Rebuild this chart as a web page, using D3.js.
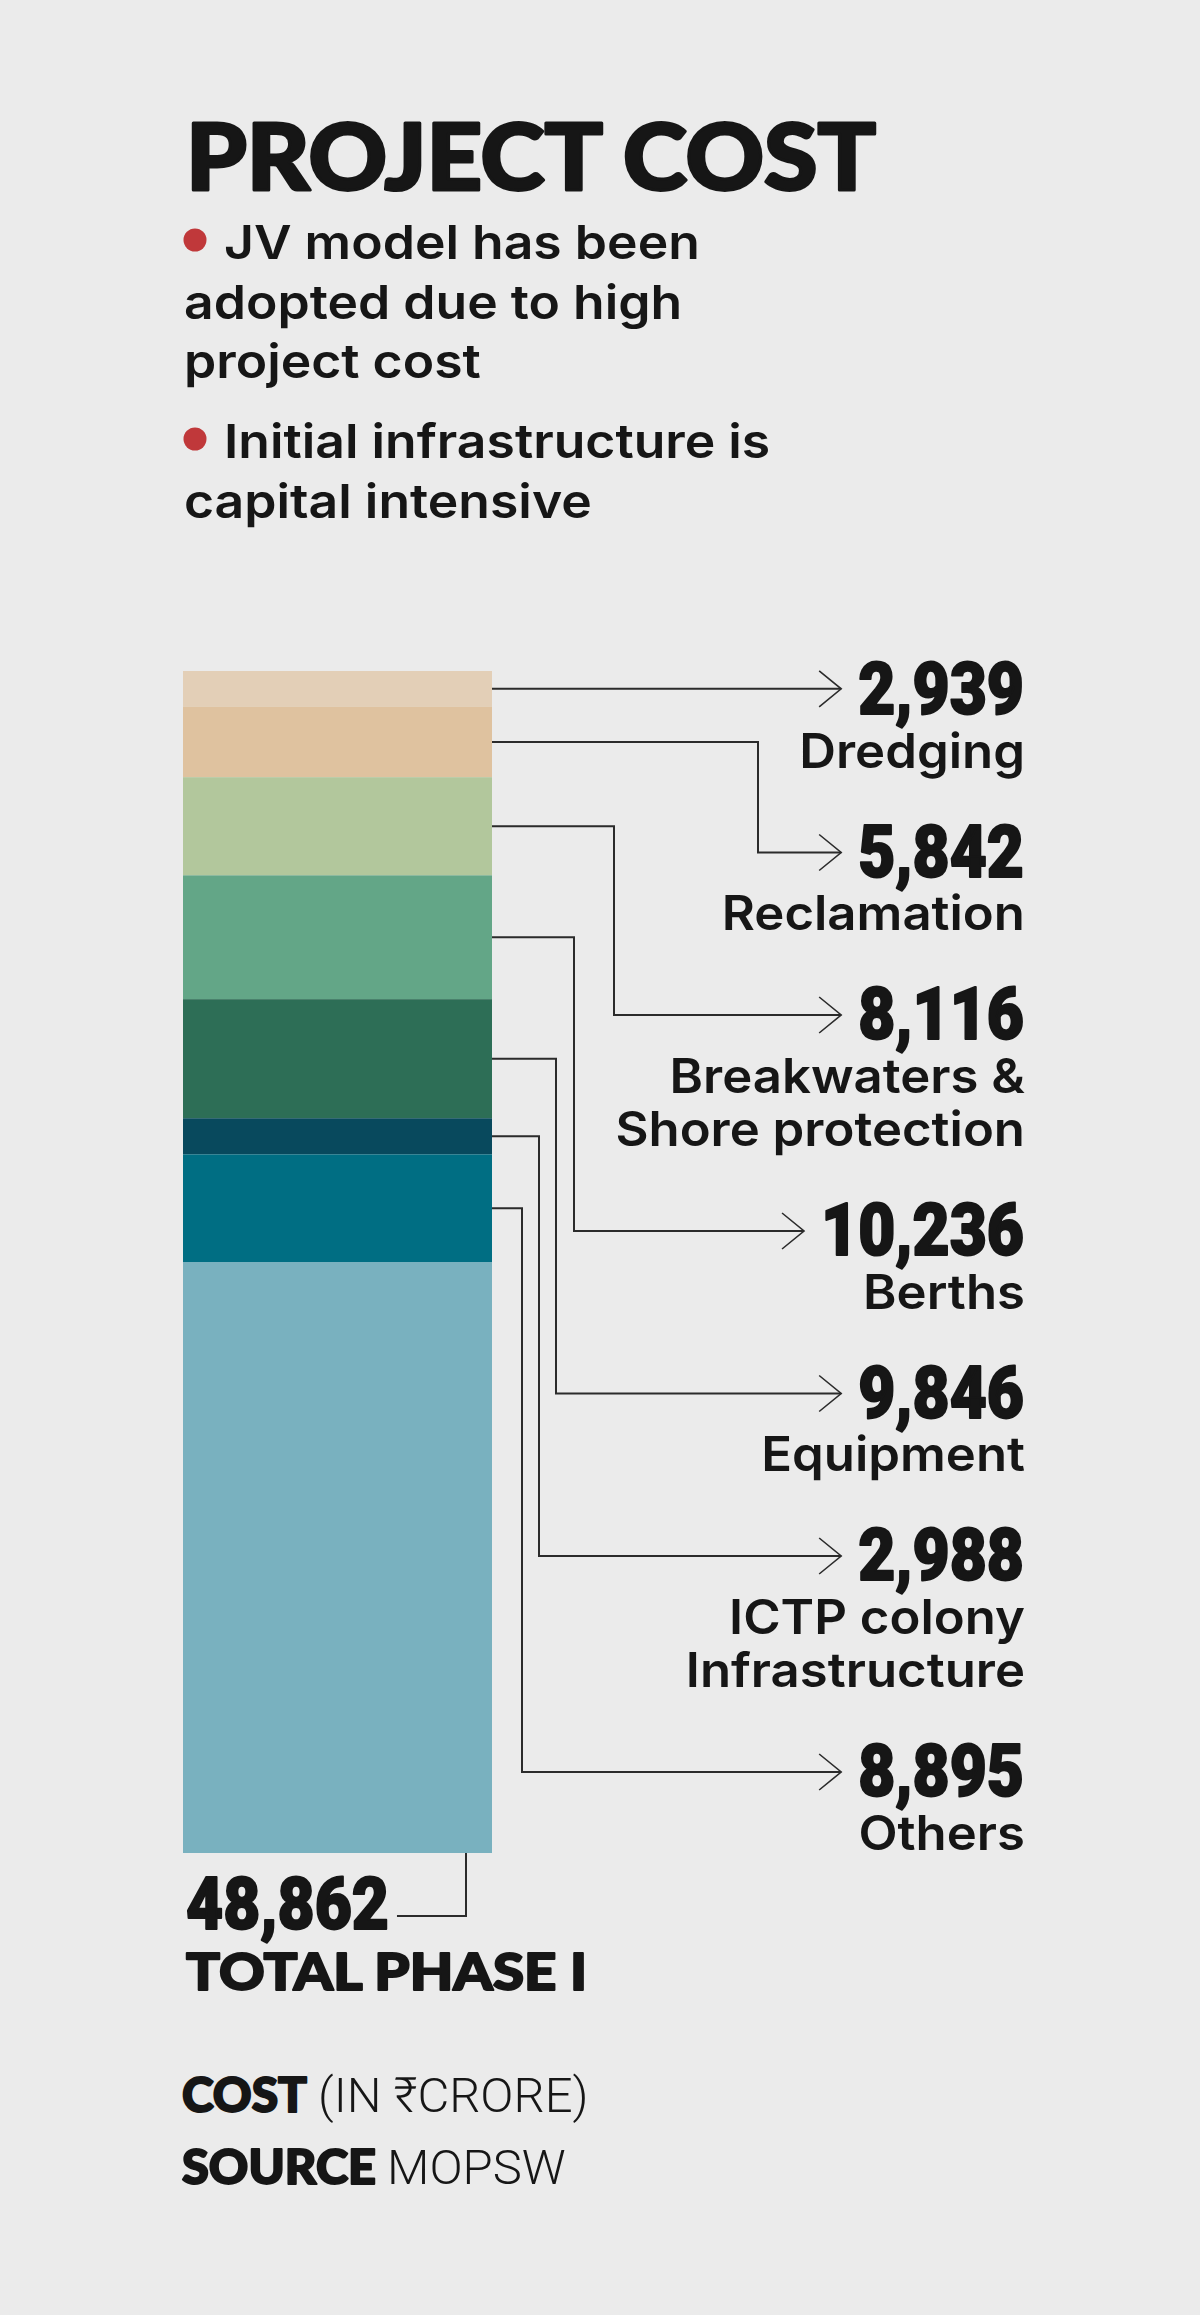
<!DOCTYPE html>
<html>
<head>
<meta charset="utf-8">
<title>Project cost</title>
<script src="https://d3js.org/d3.v7.min.js"></script>
<style>
  body { margin: 0; background: #ebebeb; }
  svg text { fill: #161616; }
  svg text.heavy { stroke: #161616; stroke-linejoin: round; }
</style>
</head>
<body>
<div id="chart"></div>
<script>
// data (Rs crore)
var categories = ["Dredging", "Reclamation", "Breakwaters & Shore protection", "Berths",
                  "Equipment", "ICTP colony Infrastructure", "Others"];
var labelLines = [["Dredging"], ["Reclamation"], ["Breakwaters &", "Shore protection"], ["Berths"],
                  ["Equipment"], ["ICTP colony", "Infrastructure"], ["Others"]];
var values = [2939, 5842, 8116, 10236, 9846, 2988, 8895];
var totalValue = 48862;
var totalLabel = "TOTAL PHASE I";
var bullets = [["JV model has been", "adopted due to high", "project cost"],
               ["Initial infrastructure is", "capital intensive"]];

var colors = ["#e3cfb7", "#dfc29f", "#b2c79c", "#63a687", "#2d6e56", "#08495d", "#006e83"];
var totalColor = "#79b1bf";

var W = 1200, H = 2315;
var left = 184;
var barX0 = 183, barX1 = 492;
var labelRight = 1024;
// x of the vertical leg of each connector (nested so they don't cross)
var elbowX = [null, 758, 614, 574, 556, 539, 522];

var svg = d3.select("#chart").append("svg")
    .attr("width", W).attr("height", H);
svg.append("rect").attr("width", W).attr("height", H).attr("fill", "#ebebeb");

// squeeze/stretch a text to a factor of its natural width
function fit(sel, k) {
    sel.each(function() {
        var w = this.getComputedTextLength();
        d3.select(this).attr("textLength", w * k).attr("lengthAdjust", "spacingAndGlyphs");
    });
}
function fitTo(sel, w) {
    sel.attr("textLength", w).attr("lengthAdjust", "spacingAndGlyphs");
}

var heavy = "Lato, Roboto, sans-serif";

// title
svg.append("text").attr("class", "heavy")
    .attr("x", left + 2).attr("y", 190)
    .style("font-family", heavy).style("font-weight", 900)
    .style("font-size", "91px").style("stroke-width", 3)
    .text("PROJECT COST")
    .call(fitTo, 690);

// bullets
var bulletY = [259, 458];
bullets.forEach(function(lines, b) {
    svg.append("circle").attr("cx", 195).attr("cy", bulletY[b] - 19).attr("r", 11.5).attr("fill", "#c0383a");
    lines.forEach(function(line, i) {
        svg.append("text")
            .attr("x", i === 0 ? 224 : left).attr("y", bulletY[b] + i * 59.5)
            .style("font-family", "Inter, sans-serif").style("font-weight", 600)
            .style("font-size", "47px")
            .text(line)
            .call(fit, 1.1);
    });
});

// stacked bar
var y = d3.scaleLinear().domain([0, totalValue * 2]).range([671, 1853]);
var cum = d3.cumsum(values);
var stack = values.map(function(v, i) { return {v: v, y0: cum[i] - v, y1: cum[i], i: i}; });
var sum = cum[cum.length - 1];

svg.append("g").selectAll("rect").data(stack).join("rect")
    .attr("x", barX0).attr("width", barX1 - barX0)
    .attr("y", function(d) { return y(d.y0); })
    .attr("height", function(d) { return y(d.y1) - y(d.y0); })
    .attr("fill", function(d) { return colors[d.i]; });

svg.append("rect")
    .attr("x", barX0).attr("width", barX1 - barX0)
    .attr("y", y(sum)).attr("height", y(sum + totalValue) - y(sum))
    .attr("fill", totalColor);

// labels on the right, stacked top to bottom
var valueFmt = d3.format(",");
var lineGap = 53.5, blockGap = 109;
var base = 714;
var labels = svg.append("g");
stack.forEach(function(d, i) {
    var vt = labels.append("text").attr("class", "heavy")
        .attr("x", labelRight).attr("y", base)
        .attr("text-anchor", "end")
        .style("font-family", "Roboto, sans-serif").style("font-weight", 900)
        .style("font-size", "72px").style("stroke-width", 2)
        .text(valueFmt(d.v))
        .call(fit, 0.89);
    var vx = labelRight - vt.node().getBBox().width;
    labelLines[i].forEach(function(line, j) {
        labels.append("text")
            .attr("x", labelRight + 1).attr("y", base + (j + 1) * lineGap)
            .attr("text-anchor", "end")
            .style("font-family", "Inter, sans-serif").style("font-weight", 600)
            .style("font-size", "48px")
            .text(line)
            .call(fit, 1.06);
    });

    var srcY = y(d.y0 + d.v / 2);
    var tgtY = i === 0 ? srcY : base - 24;
    var tip = vx - 17;
    var p = d3.path();
    p.moveTo(barX1, srcY);
    if (elbowX[i] !== null) { p.lineTo(elbowX[i], srcY); p.lineTo(elbowX[i], tgtY); }
    p.lineTo(tip, tgtY);
    labels.append("path").attr("d", p.toString())
        .attr("fill", "none").attr("stroke", "#2b2b2b").attr("stroke-width", 2);
    labels.append("path")
        .attr("d", "M" + (tip - 22) + "," + (tgtY - 18) + "L" + tip + "," + tgtY + "L" + (tip - 22) + "," + (tgtY + 18))
        .attr("fill", "none").attr("stroke", "#2b2b2b").attr("stroke-width", 1.6);

    base += (labelLines[i].length) * lineGap + blockGap;
});

// total under the bar
var tv = svg.append("text").attr("class", "heavy")
    .attr("x", 186).attr("y", 1929)
    .style("font-family", "Roboto, sans-serif").style("font-weight", 900)
    .style("font-size", "72px").style("stroke-width", 2)
    .text(valueFmt(totalValue))
    .call(fit, 0.89);
var tvRight = 186 + tv.node().getBBox().width;
svg.append("path")
    .attr("d", "M466," + y(sum + totalValue) + "V1916H" + (tvRight + 8))
    .attr("fill", "none").attr("stroke", "#2b2b2b").attr("stroke-width", 2);

svg.append("text").attr("class", "heavy")
    .attr("x", 186).attr("y", 1990)
    .style("font-family", heavy).style("font-weight", 900)
    .style("font-size", "52px").style("stroke-width", 2)
    .text(totalLabel)
    .call(fitTo, 401);

// footer
function footer(bold, light, yy, bw) {
    svg.append("text").attr("class", "heavy").attr("x", 182).attr("y", yy)
        .style("font-family", heavy).style("font-weight", 900)
        .style("font-size", "48px").style("stroke-width", 2).text(bold).call(fitTo, bw);
    svg.append("text").attr("x", 181 + bw + 12).attr("y", yy)
        .style("font-family", "Roboto, 'Noto Sans', 'DejaVu Sans', sans-serif").style("font-weight", 300)
        .style("font-size", "49px").text(light).call(fit, 1.0);
}
footer("COST", "(IN \u20B9CRORE)", 2112, 125);
footer("SOURCE", "MOPSW", 2184, 194);
</script>
</body>
</html>
